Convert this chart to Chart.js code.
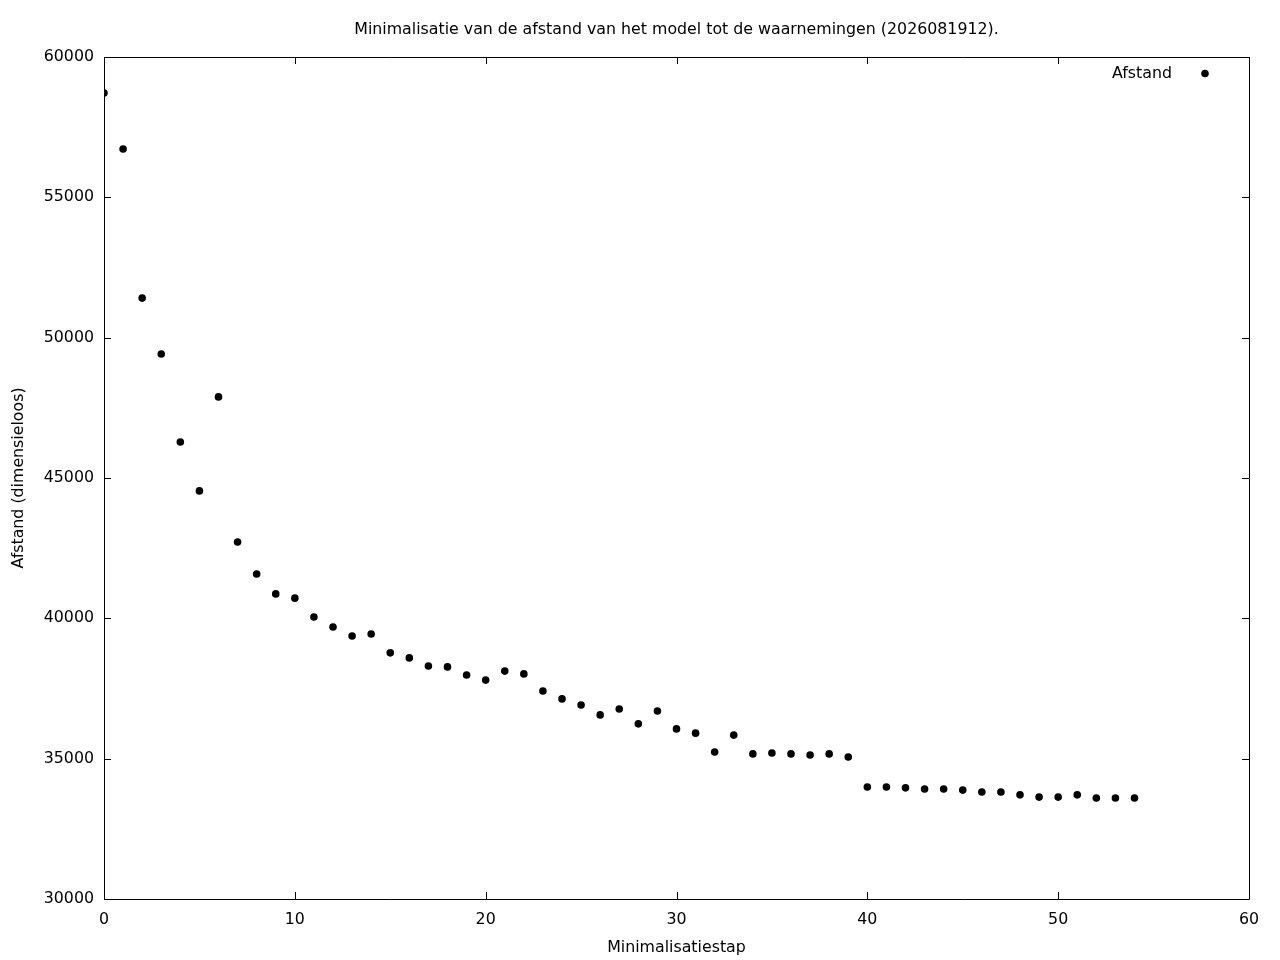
<!DOCTYPE html>
<html>
<head>
<meta charset="utf-8">
<title>Minimalisatie</title>
<script src="https://cdn.jsdelivr.net/npm/chart.js@4"></script>
<style>
  html, body { margin: 0; padding: 0; background: #fff; }
  canvas { display: block; }
</style>
</head>
<body>
<canvas id="myChart" width="1280" height="960"></canvas>
<script>
const chartTitle = 'Minimalisatie van de afstand van het model tot de waarnemingen (2026081912).'
const xTitle = 'Minimalisatiestap'
const yTitle = 'Afstand (dimensieloos)'
const seriesLabel = 'Afstand'

// minimalisatiestap 0..54
const steps = [
    0, 1, 2, 3, 4, 5, 6, 7, 8, 9,
    10, 11, 12, 13, 14, 15, 16, 17, 18, 19,
    20, 21, 22, 23, 24, 25, 26, 27, 28, 29,
    30, 31, 32, 33, 34, 35, 36, 37, 38, 39,
    40, 41, 42, 43, 44, 45, 46, 47, 48, 49,
    50, 51, 52, 53, 54
]
const afstand = [
    58720, 56720, 51410, 49420, 46280, 44540, 47890, 42720, 41580, 40870,
    40720, 40050, 39690, 39370, 39440, 38770, 38590, 38300, 38270, 37980,
    37800, 38120, 38020, 37410, 37130, 36910, 36560, 36770, 36240, 36700,
    36060, 35910, 35240, 35840, 35170, 35200, 35170, 35130, 35170, 35060,
    33990, 33990, 33960, 33920, 33920, 33880, 33810, 33810, 33710, 33630,
    33630, 33710, 33600, 33600, 33600
]

const font = { family: 'DejaVu Sans', size: 15.8 }

// gnuplot-like frame with inward ticks on all four sides, title and legend
const framePlugin = {
    id: 'frame',
    afterDraw(chart) {
        const ctx = chart.ctx
        const a = chart.chartArea
        const xs = chart.scales.x
        const ys = chart.scales.y
        const tick = 7
        ctx.save()
        ctx.strokeStyle = '#000'
        ctx.lineWidth = 1
        ctx.beginPath()
        ctx.rect(Math.round(a.left) + 0.5, Math.round(a.top) + 0.5,
                 Math.round(a.right - a.left), Math.round(a.bottom - a.top))
        xs.ticks.forEach(t => {
            const px = Math.round(xs.getPixelForValue(t.value)) + 0.5
            ctx.moveTo(px, a.bottom); ctx.lineTo(px, a.bottom - tick)
            ctx.moveTo(px, a.top); ctx.lineTo(px, a.top + tick)
        })
        ys.ticks.forEach(t => {
            const py = Math.round(ys.getPixelForValue(t.value)) + 0.5
            ctx.moveTo(a.left, py); ctx.lineTo(a.left + tick, py)
            ctx.moveTo(a.right, py); ctx.lineTo(a.right - tick, py)
        })
        ctx.stroke()

        ctx.fillStyle = '#000'
        ctx.font = font.size + 'px "' + font.family + '"'
        ctx.textBaseline = 'middle'
        ctx.textAlign = 'center'
        ctx.fillText(chartTitle, (a.left + a.right) / 2, 29.5)

        // legend
        ctx.textAlign = 'right'
        ctx.fillText(chart.data.datasets[0].label, a.right - 77, a.top + 17)
        ctx.beginPath()
        ctx.arc(a.right - 44, a.top + 16.5, 3.8, 0, Math.PI * 2)
        ctx.fill()
        ctx.restore()
    }
}

const points = steps.map((s, i) => ({ x: s, y: afstand[i] }))

new Chart(document.getElementById('myChart'), {
    type: 'scatter',
    data: {
        datasets: [{
            label: seriesLabel,
            data: points,
            backgroundColor: '#000',
            borderColor: '#000',
            pointRadius: 3.8,
            pointBorderWidth: 0,
            pointHoverRadius: 3.8
        }]
    },
    options: {
        responsive: false,
        animation: false,
        devicePixelRatio: 1,
        layout: { padding: { top: 57, right: 31, left: 0, bottom: 0 } },
        plugins: {
            legend: { display: false },
            title: { display: false },
            tooltip: { enabled: false }
        },
        scales: {
            x: {
                type: 'linear',
                min: 0,
                max: 60,
                ticks: {
                    stepSize: 10, color: '#000', font: font, padding: 11, maxRotation: 0,
                    callback: v => String(v)
                },
                grid: { display: false, drawTicks: false },
                border: { display: false },
                title: { display: true, text: xTitle, color: '#000', font: font, padding: { top: 0, bottom: 3 } },
                afterFit(scale) { scale.height = 61 }
            },
            y: {
                type: 'linear',
                min: 30000,
                max: 60000,
                ticks: {
                    stepSize: 5000, color: '#000', font: font, padding: 10,
                    callback: v => String(v)
                },
                grid: { display: false, drawTicks: false },
                border: { display: false },
                title: { display: true, text: yTitle, color: '#000', font: font, padding: { top: 9, bottom: 0 } },
                afterFit(scale) { scale.width = 104 }
            }
        }
    },
    plugins: [framePlugin]
})
</script>
</body>
</html>
